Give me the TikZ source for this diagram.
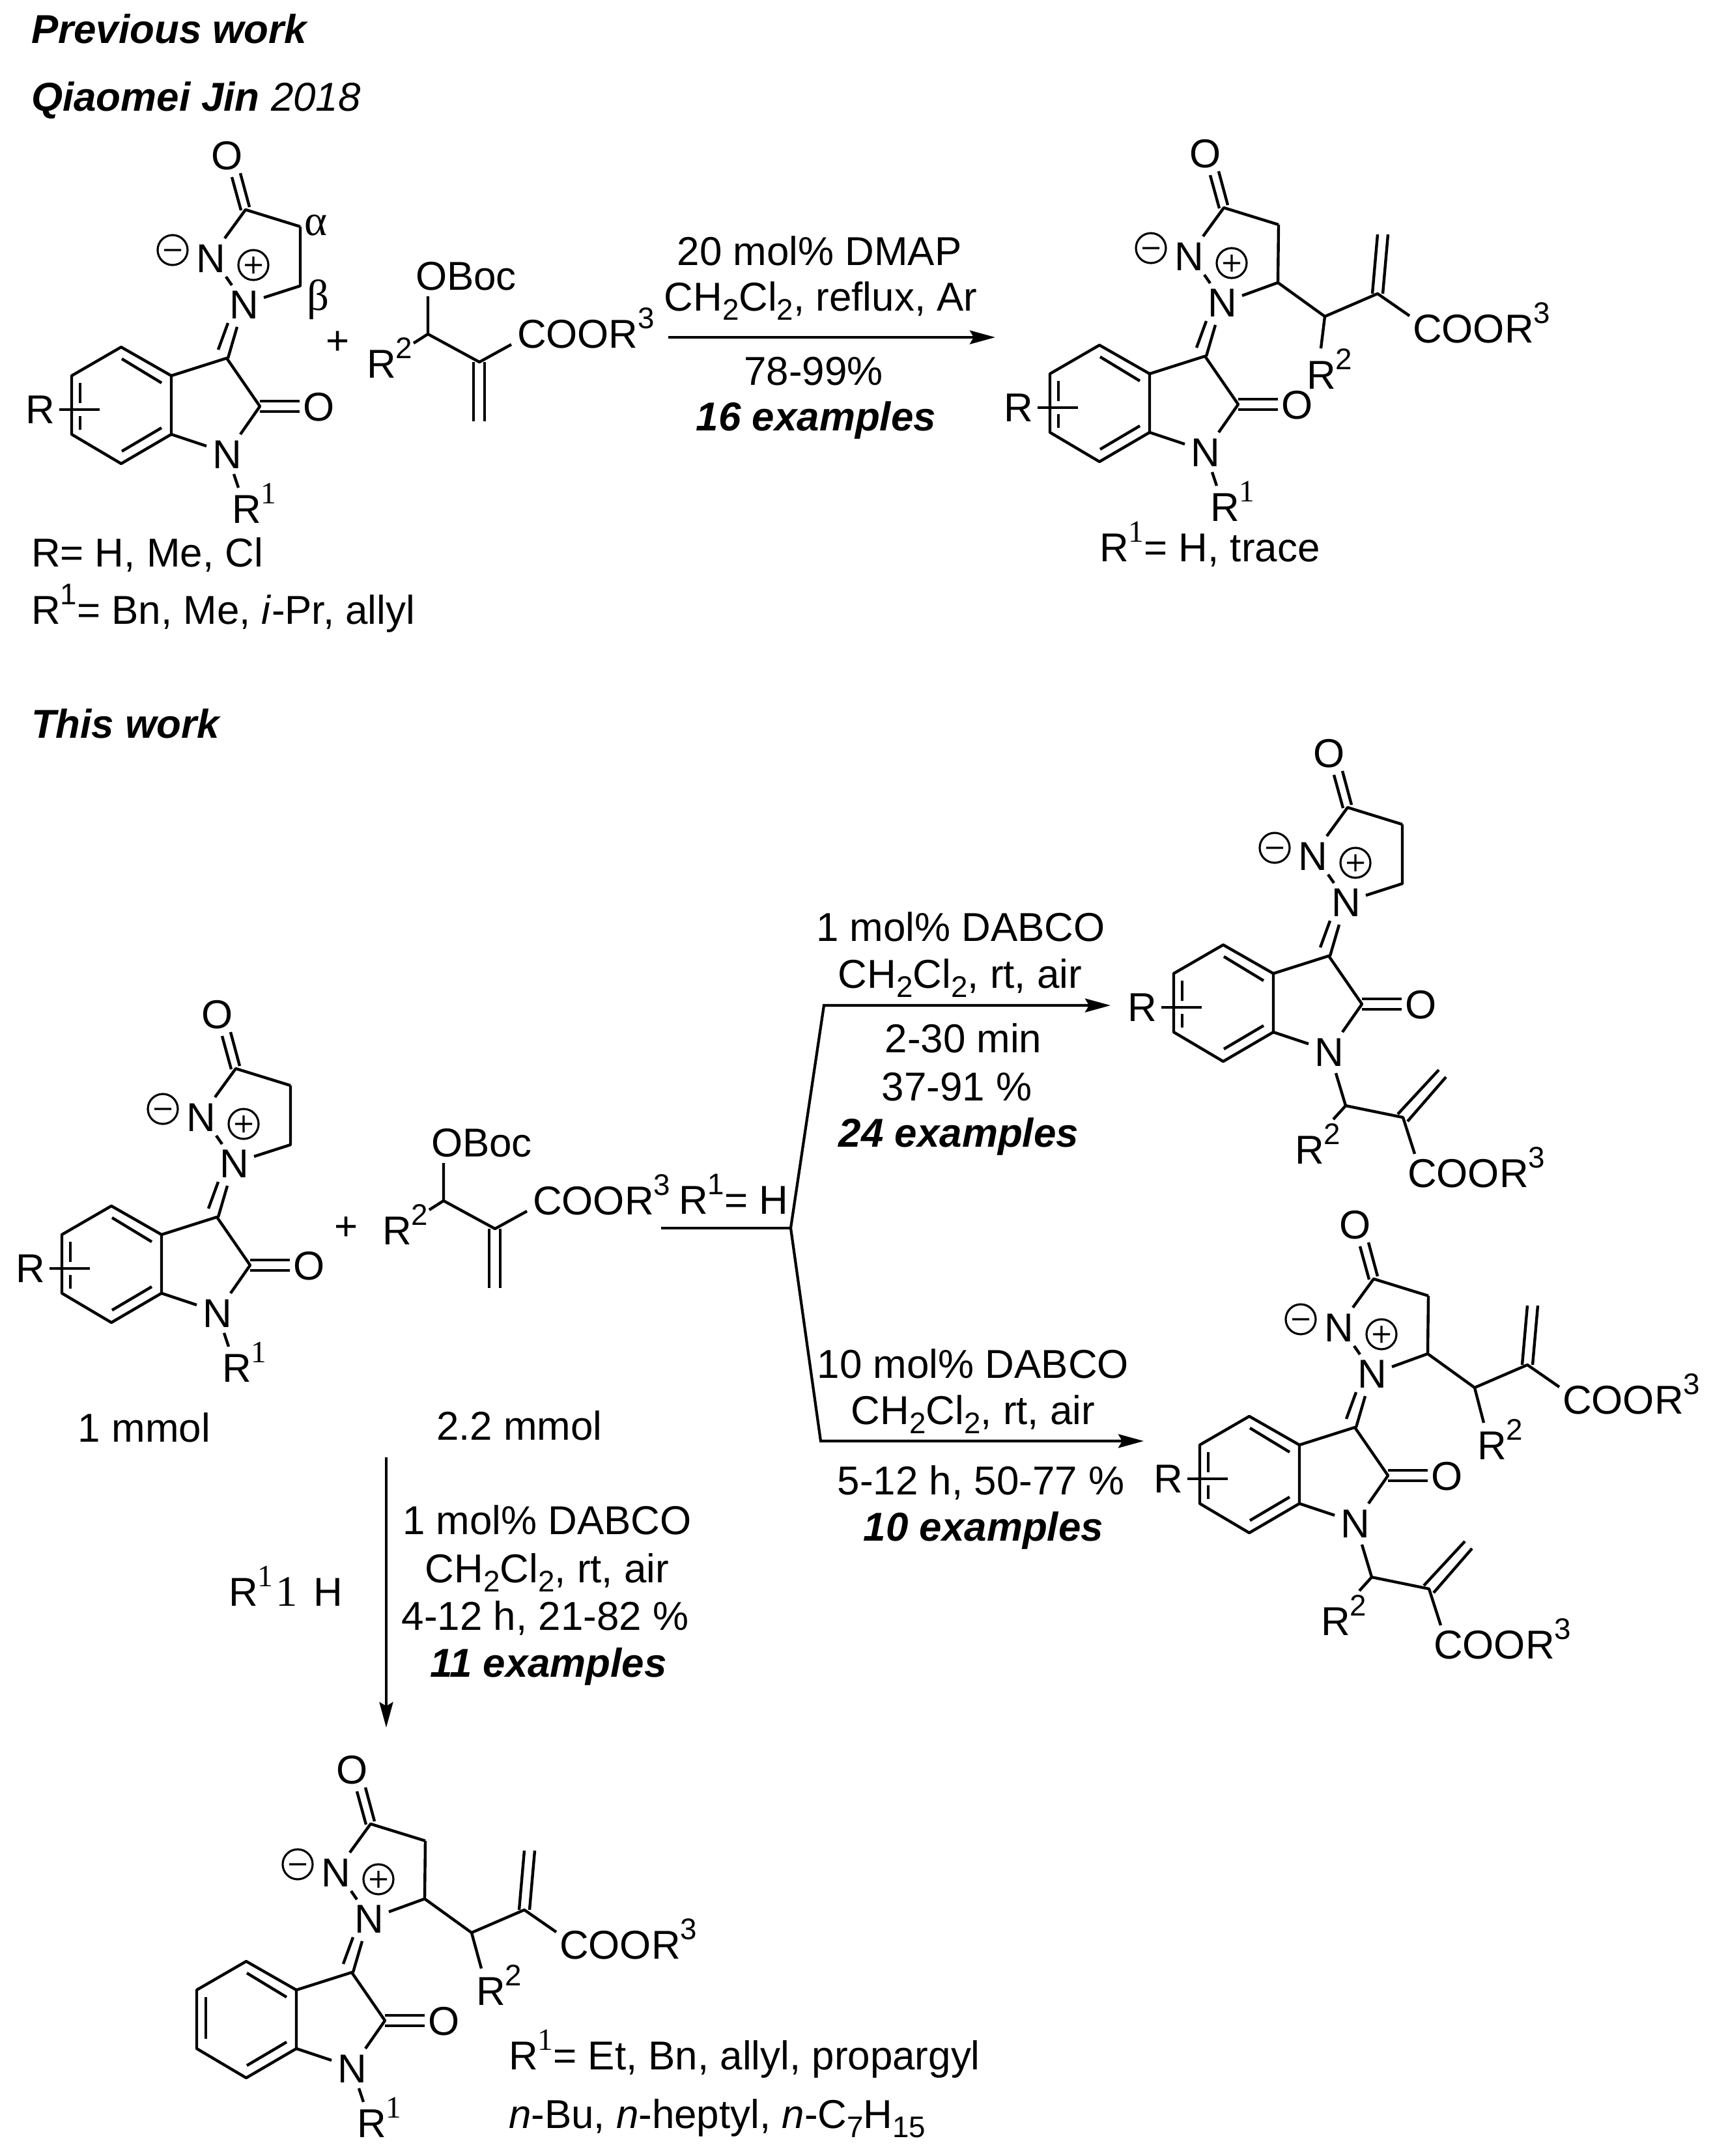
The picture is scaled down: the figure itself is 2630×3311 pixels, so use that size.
\documentclass[tikz,border=0pt]{standalone}
\usepackage{fontspec}
\setmainfont{Liberation Sans}
\newfontfamily\serifF{Liberation Serif}
\usetikzlibrary{arrows.meta}
\tikzset{
  tx/.style={inner sep=0pt,outer sep=0pt,font=\fontsize{17.6}{20}\selectfont,text=black},
  txl/.style={tx,anchor=base west},
  txc/.style={tx,anchor=base},
  txb/.style={txc,font=\fontsize{17.6}{20}\selectfont\bfseries\itshape},
  atom/.style={tx,anchor=center},
  bond/.style={line width=1.25pt,line cap=butt,line join=round,draw=black},
  charge/.style={line width=0.9pt,draw=black},
  rxn/.style={line width=1.2pt,draw=black,-{Stealth[length=0.39cm,width=0.21cm,inset=0.06cm]}},
  rxnline/.style={line width=1.2pt,draw=black,line join=round}
}
\newcommand{\supS}[1]{\raisebox{0.48em}{\fontsize{13}{13}\selectfont #1}}
\newcommand{\supT}[1]{\raisebox{0.48em}{\fontsize{13.5}{13}\selectfont\serifF #1}}
\newcommand{\subS}[1]{\raisebox{-0.24em}{\fontsize{13}{13}\selectfont #1}}
% shared skeleton, coordinates relative to C3
\newcommand{\CoreMol}[1]{%
  \node[atom] (#1O) at (1,-311) {O};
  \node[atom] (#1Nm) at (-24,-153) {N};
  \node[atom] (#1Np) at (27,-82) {N};
  \node[atom] (#1Ok) at (142,75) {O};
  \node[atom] (#1N) at (1,148) {N};
  \draw[bond] (8,-278) -- (22,-227) (21,-284) -- (35,-232);
  \draw[bond] (-3,-184) -- (29,-228) -- (113,-202);
  \draw[bond] (-1,-125) -- (8,-112);
  \draw[bond] (-13,-13) -- (2,-54) (2,0) -- (16,-48);
  \draw[bond] (-85,27) -- (0,0) -- (51,74) -- (21,117);
  \draw[bond] (51,66) -- (112,66) (51,82) -- (112,82);
  \draw[bond] (-85,117) -- (-31,135);
  \draw[bond] (-85,27) -- (-162,-17) -- (-238,27) -- (-238,117) -- (-162,162) -- (-85,117) -- cycle;
  \draw[bond] (-161,1) -- (-100,38) (-161,143) -- (-100,107);
  \draw[charge] (-83,-166) circle (23) (-96,-166) -- (-70,-166);
  \draw[charge] (41,-143) circle (23) (28,-143) -- (54,-143) (41,-156) -- (41,-130);
}
\newcommand{\RSub}[1]{%
  \node[atom] (#1R) at (-286,79) {R};
  \draw[bond] (-257,79) -- (-195,79);
  \draw[bond] (-225,38) -- (-225,69) (-225,89) -- (-225,110);
}
\newcommand{\NoRSub}{\draw[bond] (-224,38) -- (-224,102);}
\newcommand{\ROne}[1]{%
  \draw[bond] (11,178) -- (18,199);
  \node[txl] (#1Rone) at (8,253) {R\supT{1}};
}
\newcommand{\RingPlain}[1]{\draw[bond] (113,-202) -- (113,-111) -- (57,-93);}
% C-5 substituted ring and side chain
\newcommand{\RingSub}[1]{%
  \draw[bond] (113,-202) -- (112,-113) -- (57,-93);
  \draw[bond] (112,-113) -- (184,-61) -- (265,-96) -- (314,-62);
  \draw[bond] (257,-96) -- (265,-187) (273,-96) -- (281,-187);
  \node[txl] (#1Coo) at (319,-21) {COOR\supS{3}};
}
% N-substituent
\newcommand{\NChain}[1]{%
  \draw[bond] (11,180) -- (26,230) -- (114,248) -- (132,304);
  \draw[bond] (26,230) -- (7,251);
  \draw[bond] (106,243) -- (169,175) (121,254) -- (180,186);
  \node[txl] (#1Rtwo) at (-52,319) {R\supS{2}};
  \node[txl] (#1CooN) at (121,355) {COOR\supS{3}};
}
\newcommand{\Reagent}[1]{%
  \node[txl] (#1Boc) at (638,445) {OBoc};
  \node[txl] (#1Rt) at (563,580) {R\supS{2}};
  \node[txl] (#1Co) at (794,534) {COOR\supS{3}};
  \draw[bond] (657,455) -- (657,513) -- (736,556) -- (785,529);
  \draw[bond] (635,527) -- (657,513);
  \draw[bond] (727,556) -- (727,647) (744,556) -- (744,647);
}
\begin{document}
\begin{tikzpicture}[x=0.01cm,y=-0.01cm]
\useasboundingbox (0,0) rectangle (2630,3311);
\fill[white] (0,0) rectangle (2630,3311);

% headings
\node[txb,anchor=base west] (hPrev) at (48,66) {Previous work};
\node[txl] (hJin) at (48,170) {\textbf{\textit{Qiaomei Jin}} \textit{2018}};
\node[txb,anchor=base west] (hThis) at (48,1133) {This work};

% A
\begin{scope}[shift={(348,550)}]
  \CoreMol{a} \RSub{a} \ROne{a} \RingPlain{a}
  \node[tx,font=\fontsize{19}{20}\selectfont\serifF] (aAl) at (137,-204) {α};
  \node[tx,font=\fontsize{19}{20}\selectfont\serifF] (aBe) at (140,-90) {β};
\end{scope}
\node[atom] (aPlus) at (519,527) {+};
\Reagent{ra}
\node[txl] (aNote1) at (48,870) {R= H, Me, Cl};
\node[txl] (aNote2) at (48,958) {R\supS{1}= Bn, Me, \textit{i}-Pr, allyl};

% arrow 1
\coordinate (s1) at (1026,518);
\coordinate (e1) at (1528,518);
\draw[rxn] (s1) -- (e1);
\node[txc] (c11) at (1258,407) {20 mol\% DMAP};
\node[txc] (c12) at (1260,477) {CH\subS{2}Cl\subS{2}, reflux, Ar};
\node[txc] (c13) at (1249,591) {78-99\%};
\node[txb] (c14) at (1253,661) {16 examples};

% B
\begin{scope}[shift={(1850,547)}]
  \CoreMol{b} \RSub{b} \ROne{b} \RingSub{b}
  \draw[bond] (184,-61) -- (178,-12);
  \node[txl] (bRtwo) at (156,50) {R\supS{2}};
\end{scope}
\node[txl] (bNote) at (1688,862) {R\supT{1}= H, trace};

% C
\begin{scope}[shift={(333,1869)}]
  \CoreMol{c} \RSub{c} \ROne{c} \RingPlain{c}
\end{scope}
\node[atom] (cPlus) at (532,1887) {+};
\begin{scope}[shift={(24,1331)}]
  \Reagent{rc}
\end{scope}
\node[txl] (mm1) at (120,2214) {1 mmol};
\node[txl] (mm2) at (670,2211) {2.2 mmol};
\node[txl] (rEq) at (1042,1864) {R\supS{1}= H};

% branching arrows
\coordinate (bs) at (1015,1886);
\coordinate (bm) at (1214,1886);
\coordinate (bt) at (1265,1544);
\coordinate (be1) at (1705,1544);
\coordinate (bb) at (1260,2213);
\coordinate (be2) at (1756,2213);
\draw[rxnline] (bs) -- (bm);
\draw[rxn] (bm) -- (bt) -- (be1);
\draw[rxn] (bm) -- (bb) -- (be2);
\node[txc] (d1) at (1475,1445) {1 mol\% DABCO};
\node[txc] (d2) at (1474,1517) {CH\subS{2}Cl\subS{2}, rt, air};
\node[txc] (d3) at (1479,1616) {2-30 min};
\node[txc] (d4) at (1469,1690) {37-91 \%};
\node[txb] (d5) at (1472,1761) {24 examples};
\node[txc] (e1t) at (1494,2116) {10 mol\% DABCO};
\node[txc] (e2t) at (1494,2187) {CH\subS{2}Cl\subS{2}, rt, air};
\node[txc] (e3t) at (1506,2295) {5-12 h, 50-77 \%};
\node[txb] (e4t) at (1510,2366) {10 examples};

% D
\begin{scope}[shift={(2040,1468)}]
  \CoreMol{d} \RSub{d} \RingPlain{d} \NChain{d}
\end{scope}

% E
\begin{scope}[shift={(2080,2192)}]
  \CoreMol{e} \RSub{e} \RingSub{e} \NChain{e}
  \draw[bond] (184,-61) -- (198,-7);
  \node[txl] (eRtwo) at (188,49) {R\supS{2}};
\end{scope}

% down arrow
\coordinate (ds) at (593,2238);
\coordinate (de) at (593,2653);
\draw[rxn] (ds) -- (de);
\node[txl] (f0) at (351,2466) {R\supT{1}\hspace{0.06em}{\fontsize{19}{20}\selectfont\serifF 1}\hspace{0.12em} H};
\node[txc] (f1) at (840,2356) {1 mol\% DABCO};
\node[txc] (f2) at (840,2430) {CH\subS{2}Cl\subS{2}, rt, air};
\node[txc] (f3) at (837,2503) {4-12 h, 21-82 \%};
\node[txb] (f4) at (842,2575) {11 examples};

% F
\begin{scope}[shift={(540,3029)}]
  \CoreMol{f} \NoRSub \ROne{f} \RingSub{f}
  \draw[bond] (184,-61) -- (199,-6);
  \node[txl] (fRtwo) at (191,50) {R\supS{2}};
\end{scope}
\node[txl] (fNote1) at (781,3178) {R\supT{1}= Et, Bn, allyl, propargyl};
\node[txl] (fNote2) at (781,3268) {\textit{n}-Bu, \textit{n}-heptyl, \textit{n}-C\subS{7}H\subS{15}};
\end{tikzpicture}
\end{document}
